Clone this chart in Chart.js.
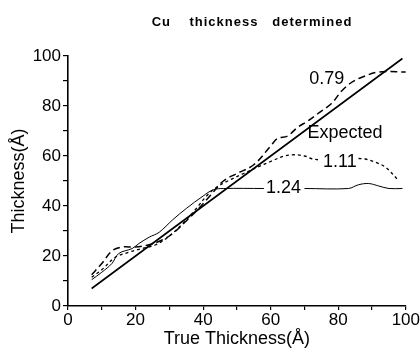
<!DOCTYPE html>
<html>
<head>
<meta charset="utf-8">
<script src="https://cdn.jsdelivr.net/npm/chart.js@4.4.1/dist/chart.umd.min.js"></script>
<style>
  html, body { margin: 0; padding: 0; background: #fff; }
  #wrap { width: 420px; height: 353px; }
</style>
</head>
<body>
<div id="wrap"><canvas id="chart" width="420" height="353"></canvas></div>
<script>
// values (true thickness vs determined thickness, in Å)
const expectedX = [7, 99];
const expectedY = [7, 99];

const x079 = [7, 10, 13, 16, 20, 24, 28, 31, 35, 38, 42, 46, 50, 55, 60, 62, 65, 68, 71, 74, 78, 81, 84, 87, 92, 100];
const y079 = [12.5, 17, 22, 23.6, 23.6, 24.5, 26.5, 29, 34, 38, 44, 50, 53, 56.5, 64, 67, 68, 71.5, 74, 77, 81, 86, 89.5, 91.5, 93.6, 93.6];

// null = gap where the "1.11" label sits
const x111 = [7, 10, 14, 18, 22, 26, 30, 34, 38, 41, 44, 48, 52, 56, 60, 64, 67, 70, 72, 74, 80, 86, 88, 91, 94, 98];
const y111 = [11.5, 14.5, 19.5, 21.5, 23, 24.5, 28, 33, 39, 44, 47.5, 50.5, 53, 55.5, 57.8, 60, 60.5, 60, 59, 58.5, null, 59, 58.8, 57.5, 55.5, 50];

// null = gap where the "1.24" label sits
const x124 = [7, 10, 13, 15, 19, 21, 24, 27, 31, 35, 40, 43, 46, 58, 64, 70, 83, 86, 89, 92, 95, 99];
const y124 = [10.5, 13.5, 17, 21, 23, 25, 27.5, 29.5, 34.5, 39, 44, 46.5, 47, 47, null, 47, 47, 48.5, 49, 48, 47, 47];

const xTicks = [0, 20, 40, 60, 80, 100];
const yTicks = [0, 20, 40, 60, 80, 100];

// text labels placed next to the curves (data coordinates)
const curveLabels = [
  { text: '0.79', x: 76.6, y: 90.8 },
  { text: 'Expected', x: 82, y: 69 },
  { text: '1.11', x: 80.5, y: 57.6 },
  { text: '1.24', x: 63.8, y: 47 }
];

function pts(xs, ys) {
  return xs.map((x, i) => ({ x: x, y: ys[i] }));
}

const FONT = "'Liberation Sans', Arial, Helvetica, sans-serif";

const labelPlugin = {
  id: 'labels',
  afterDatasetsDraw(chart) {
    const ctx = chart.ctx;
    const xs = chart.scales.x, ys = chart.scales.y;
    ctx.save();
    ctx.fillStyle = '#000';
    ctx.font = '18px ' + FONT;
    ctx.textAlign = 'center';
    ctx.textBaseline = 'middle';
    curveLabels.forEach(l => {
      ctx.fillText(l.text, xs.getPixelForValue(l.x), ys.getPixelForValue(l.y));
    });
    ctx.font = 'bold 13px ' + FONT;
    ctx.letterSpacing = '1px';
    ctx.fillText('Cu    thickness   determined', 252, 22);
    ctx.restore();
  }
};

function lineSet(label, xs, ys, dash, width) {
  return {
    label: label,
    data: pts(xs, ys),
    borderColor: '#000',
    borderWidth: width,
    borderDash: dash,
    pointRadius: 0,
    fill: false,
    tension: 0.35,
    spanGaps: false
  };
}

new Chart(document.getElementById('chart'), {
  type: 'line',
  data: {
    datasets: [
      lineSet('Expected', expectedX, expectedY, [], 1.6),
      lineSet('0.79', x079, y079, [7, 4], 1.5),
      lineSet('1.11', x111, y111, [3, 3], 1.3),
      lineSet('1.24', x124, y124, [], 1)
    ]
  },
  options: {
    responsive: false,
    animation: false,
    layout: { padding: { top: 56, right: 14, left: 0, bottom: 0 } },
    plugins: { legend: { display: false }, tooltip: { enabled: false } },
    scales: {
      x: {
        type: 'linear',
        min: 0, max: 100,
        afterFit: s => { s.height = 47; },
        border: { display: true, color: '#000', width: 1.6 },
        grid: { display: true, drawOnChartArea: false, drawTicks: true, tickLength: 4, color: '#000', lineWidth: 1.2 },
        ticks: {
          stepSize: 10, autoSkip: false, maxRotation: 0, padding: 0, color: '#000',
          font: { family: FONT, size: 17 },
          callback: v => xTicks.includes(v) ? String(v) : ''
        },
        title: { display: true, text: 'True Thickness(Å)', color: '#000', font: { family: FONT, size: 18, lineHeight: 1.2 }, padding: { top: 0, bottom: 3 } }
      },
      y: {
        type: 'linear',
        min: 0, max: 100,
        afterFit: s => { s.width = 68; },
        border: { display: true, color: '#000', width: 1.6 },
        grid: { display: true, drawOnChartArea: false, drawTicks: true, tickLength: 5, color: '#000', lineWidth: 1.2 },
        ticks: {
          stepSize: 10, autoSkip: false, padding: 2, color: '#000',
          font: { family: FONT, size: 17 },
          callback: v => yTicks.includes(v) ? String(v) : ''
        },
        title: { display: true, text: 'Thickness(Å)', color: '#000', font: { family: FONT, size: 18, lineHeight: 1.2 }, padding: { top: 8, bottom: 0 } }
      }
    }
  },
  plugins: [labelPlugin]
});
</script>
</body>
</html>
